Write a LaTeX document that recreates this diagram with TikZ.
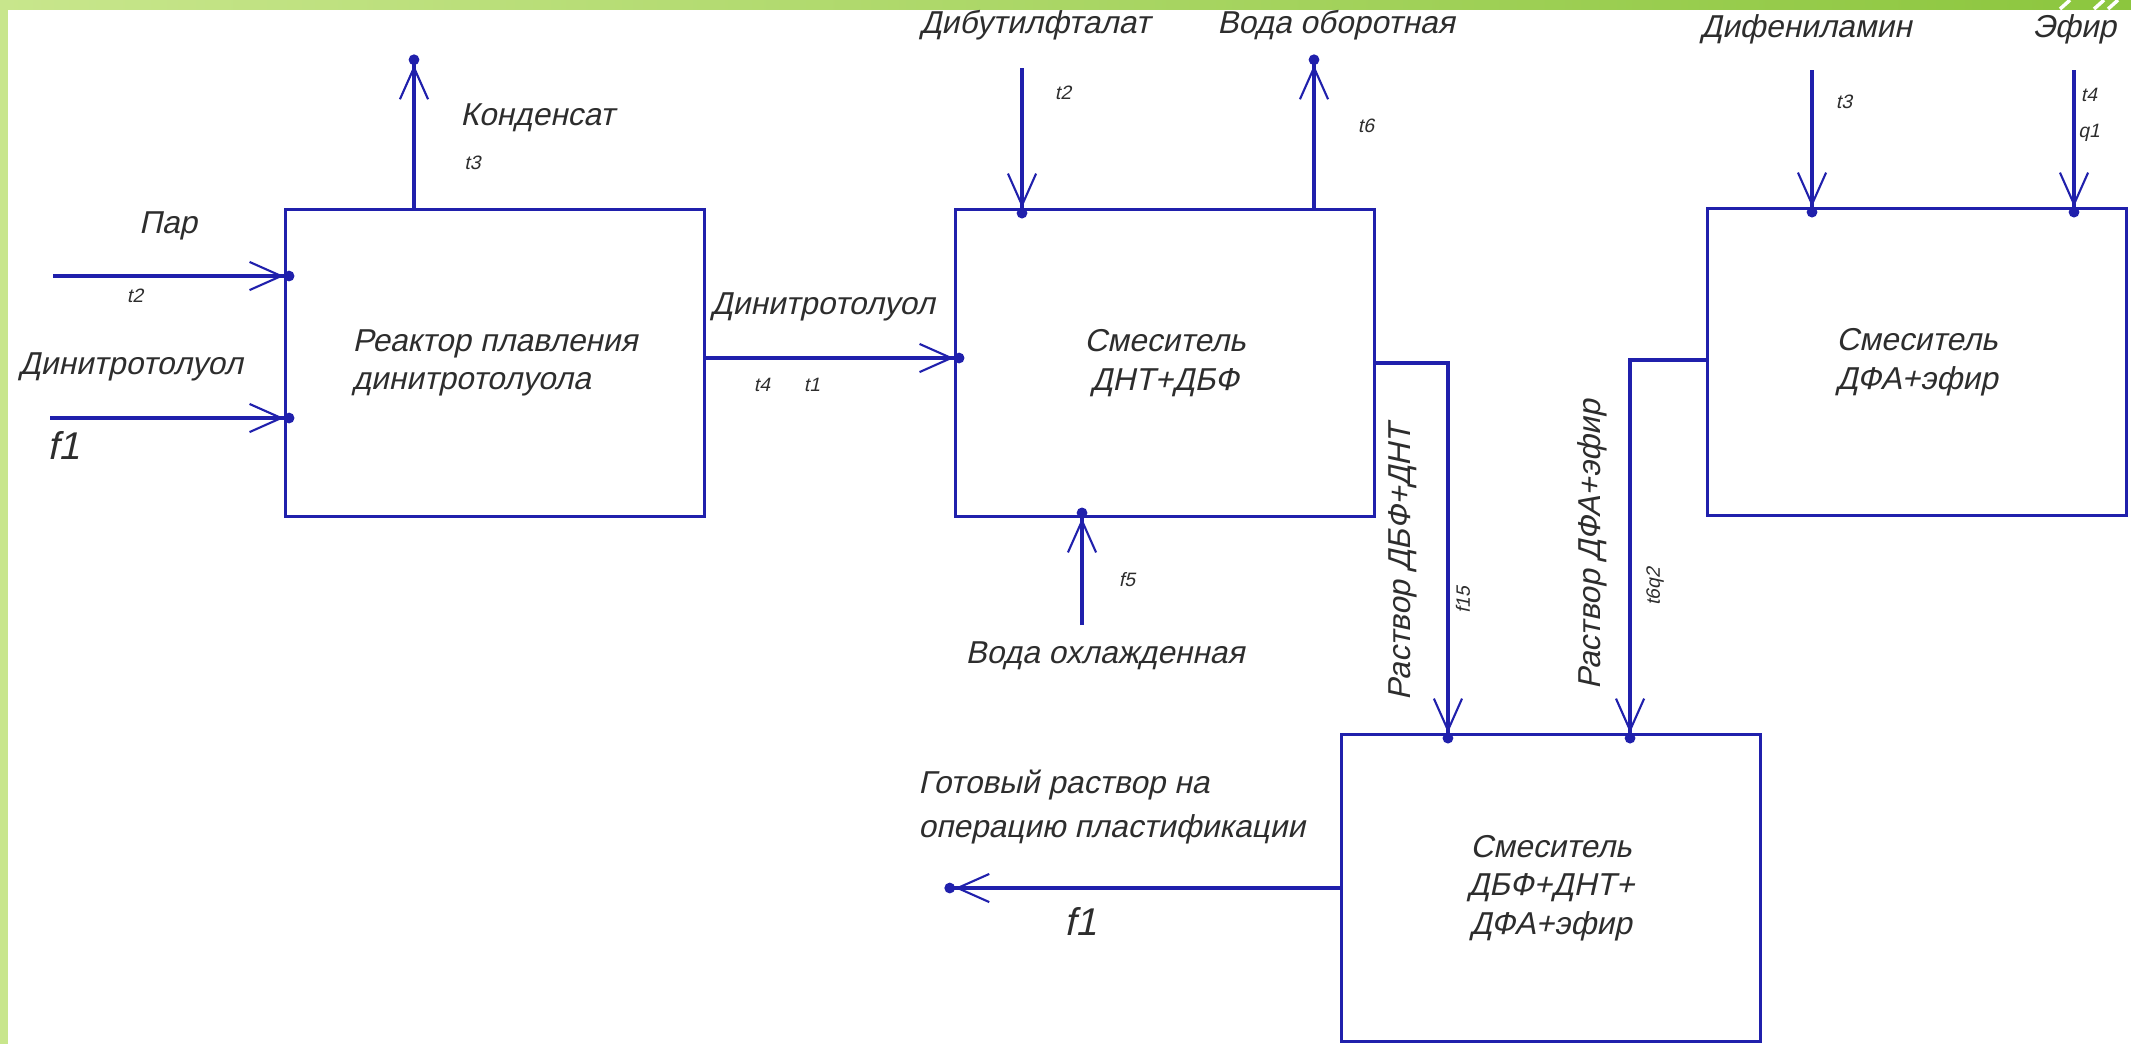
\documentclass[tikz,border=0pt]{standalone}
\usepackage{fontspec}
\setmainfont{Liberation Sans}[FakeSlant=0.22]
\usetikzlibrary{arrows.meta,positioning}
\definecolor{flowblue}{RGB}{32,32,172}
\definecolor{inkgray}{RGB}{45,45,45}
\definecolor{bandlight}{RGB}{200,230,140}
\definecolor{banddark}{RGB}{140,198,62}

\begin{document}
\begin{tikzpicture}[x=0.01cm,y=-0.01cm,
    unit/.style={draw=flowblue,line width=0.9pt,minimum width=4.19cm,minimum height=3.07cm,
      align=center,text=inkgray,font=\fontsize{9}{11}\selectfont},
    flow/.style={draw=flowblue,line width=0.9pt,
      -{Straight Barb[length=9pt,width=8pt,line width=0.6pt]Circle[length=3pt,sep=-3pt]}},
    lbl/.style={text=inkgray,font=\fontsize{9}{11}\selectfont},
    tag/.style={text=inkgray,font=\fontsize{5.5}{6}\selectfont},
    bigtag/.style={text=inkgray,font=\fontsize{11}{12}\selectfont}]
  \useasboundingbox (0,0) rectangle (2131,1044);
  % slide frame
  \fill[bandlight] (0,0) rectangle (8,1044);
  \shade[left color=bandlight,right color=banddark] (0,0) rectangle (2131,9);
  \foreach \x in {2060,2094,2108} \draw[white,line width=1pt] (\x,9) -- (\x+10,0);
  % units
  \node[unit,align=left] (reactor) at (495,363) {Реактор плавления\\динитротолуола};
  \node[unit] (mix1) at (1165,363) {Смеситель\\ДНТ+ДБФ};
  \node[unit] (mix2) at (1917,362) {Смеситель\\ДФА+эфир};
  \node[unit] (mix3) at (1551,888) {Смеситель\\ДБФ+ДНТ+\\ДФА+эфир};
  % reactor streams
  \coordinate (par) at (53,276);
  \draw[flow] (par) -- (par -| reactor.west);
  \node[lbl] (parlbl) at (168,226) {Пар};
  \node[tag] (partag) at (135,296) {t2};
  \coordinate (dntin) at (50,418);
  \draw[flow] (dntin) -- (dntin -| reactor.west);
  \node[lbl] (dntinlbl) at (131,367) {Динитротолуол};
  \node[bigtag] (dntintag) at (64,445) {f1};
  \coordinate (cond) at (414,65);
  \draw[flow] (cond |- reactor.north) -- (cond);
  \node[lbl,anchor=west] (condlbl) at (448,118) {Конденсат};
  \node[tag,anchor=west] (condtag) at (452,163) {t3};
  % reactor to first mixer
  \draw[flow] (reactor.east |- 0,358) -- (mix1.west |- 0,358);
  \node[lbl] (dntlbl) at (823,307) {Динитротолуол};
  \node[tag] (dnttag) at (762,385) {t4};
  \node[tag] (dnttagb) at (812,385) {t1};
  % first mixer streams
  \coordinate (dbf) at (1022,68);
  \draw[flow] (dbf) -- (dbf |- mix1.north);
  \node[lbl] (dbflbl) at (1035,25) {Дибутилфталат};
  \node[tag] (dbftag) at (1063,93) {t2};
  \coordinate (ret) at (1314,65);
  \draw[flow] (ret |- mix1.north) -- (ret);
  \node[lbl] (retlbl) at (1336,25) {Вода оборотная};
  \node[tag] (rettag) at (1366,126) {t6};
  \coordinate (cool) at (1082,625);
  \draw[flow] (cool) -- (cool |- mix1.south);
  \node[lbl] (coollbl) at (1105,656) {Вода охлажденная};
  \node[tag] (cooltag) at (1127,580) {f5};
  % second mixer streams
  \coordinate (dfa) at (1812,70);
  \draw[flow] (dfa) -- (dfa |- mix2.north);
  \node[lbl] (dfalbl) at (1806,29) {Дифениламин};
  \node[tag] (dfatag) at (1844,102) {t3};
  \coordinate (eth) at (2074,70);
  \draw[flow] (eth) -- (eth |- mix2.north);
  \node[lbl] (ethlbl) at (2074,29) {Эфир};
  \node[tag] (ethtag) at (2089,95) {t4};
  \node[tag] (ethtagb) at (2089,133) {q1};
  % solutions into the last mixer
  \draw[flow] (mix1.east |- 0,363) -| ([xshift=-1.03cm]mix3.north);
  \node[lbl,rotate=90] (sol1lbl) at (1403,562) {Раствор ДБФ+ДНТ};
  \node[tag,rotate=90] (sol1tag) at (1463,600) {f15};
  \draw[flow] (mix2.west |- 0,360) -| ([xshift=0.79cm]mix3.north);
  \node[lbl,rotate=90] (sol2lbl) at (1592,545) {Раствор ДФА+эфир};
  \node[tag,rotate=90] (sol2tag) at (1655,587) {t6q2};
  % product
  \coordinate (out) at (955,888);
  \draw[flow] (out -| mix3.west) -- (out);
  \node[lbl,align=left,anchor=west,font=\fontsize{9}{12.5}\selectfont] (outlbl) at (906,807)
    {Готовый раствор на\\операцию пластификации};
  \node[bigtag] (outtag) at (1081,921) {f1};
\end{tikzpicture}
\end{document}
